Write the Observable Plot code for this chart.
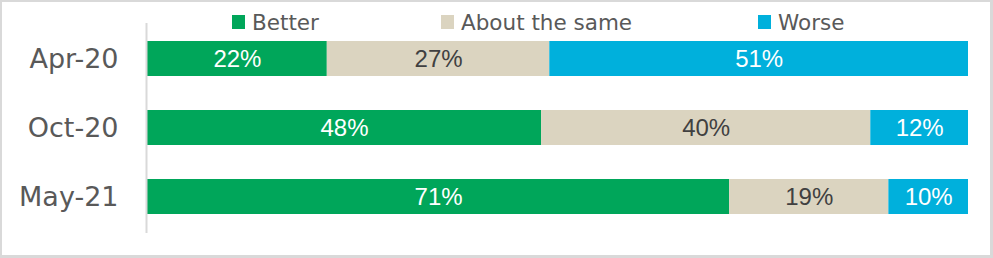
<!DOCTYPE html>
<html>
<head>
<meta charset="utf-8">
<script src="https://cdn.jsdelivr.net/npm/d3@7"></script>
<script src="https://cdn.jsdelivr.net/npm/@observablehq/plot@0.6"></script>
<style>
  html, body { margin: 0; padding: 0; background: #fff; }
  #wrap { position: relative; width: 993px; height: 258px; overflow: hidden; }
  #frame { position: absolute; left: 0; top: 0; width: 993px; height: 258px; box-sizing: border-box; border: 2px solid #d9d9d9; border-right-width: 3px; border-bottom-width: 3px; pointer-events: none; }
  #chart { position: absolute; left: 0; top: 0; }
  .lg { position: absolute; top: 7px; height: 30px; display: flex; align-items: center; font-family: "DejaVu Sans", sans-serif; font-size: 21.5px; color: #595959; white-space: nowrap; }
  .lg .sw { width: 13px; height: 14px; margin-right: 7px; display: inline-block; }
</style>
</head>
<body>
<div id="wrap">
  <div id="chart"></div>
  <div id="legend"></div>
  <div id="frame"></div>
</div>
<script>
const periods = ["Apr-20", "Oct-20", "May-21"];
const categories = ["Better", "About the same", "Worse"];
const better = [21.9, 48.0, 70.9];
const same = [27.1, 40.1, 19.4];
const worse = [51.0, 11.9, 9.7];
const colors = ["#00A65A", "#DBD4C0", "#00B0DC"];

const series = [better, same, worse];
const data = [];
periods.forEach((p, i) => {
  categories.forEach((c, j) => {
    data.push({period: p, cat: c, value: series[j][i]});
  });
});

const labelFont = "'Liberation Sans', Arial, sans-serif";
const pct = d => Math.round(d.value) + "%";
const chart = Plot.plot({
  width: 993,
  height: 258,
  marginLeft: 147,
  marginRight: 25,
  marginTop: 6,
  marginBottom: 9,
  x: {domain: [0, 100], axis: null},
  y: {domain: periods, padding: 0.5, label: null},
  color: {domain: categories, range: colors},
  style: {background: "transparent"},
  marks: [
    Plot.barX(data, Plot.stackX({x: "value", y: "period", fill: "cat", order: categories})),
    Plot.text(data, Plot.stackX({x: "value", y: "period", z: "cat", order: categories, text: d => d.cat !== "About the same" ? pct(d) : "", fill: "white", fontSize: 24, fontFamily: labelFont})),
    Plot.text(data, Plot.stackX({x: "value", y: "period", z: "cat", order: categories, text: d => d.cat === "About the same" ? pct(d) : "", fill: "#404040", fontSize: 24, fontFamily: labelFont})),
    Plot.axisY({tickSize: 0, tickPadding: 29, fontSize: 27, fill: "#595959", fontFamily: "'DejaVu Sans', sans-serif", label: null}),
    Plot.ruleX([0], {stroke: "#d9d9d9", strokeWidth: 2, dx: -1, insetTop: 17, insetBottom: 16})
  ]
});
document.getElementById("chart").appendChild(chart);

const legendX = [232, 441, 758];
const legend = document.getElementById("legend");
categories.forEach((c, j) => {
  const item = document.createElement("div");
  item.className = "lg";
  item.style.left = legendX[j] + "px";
  const sw = document.createElement("span");
  sw.className = "sw";
  sw.style.background = colors[j];
  item.appendChild(sw);
  item.appendChild(document.createTextNode(c));
  legend.appendChild(item);
});
</script>
</body>
</html>
